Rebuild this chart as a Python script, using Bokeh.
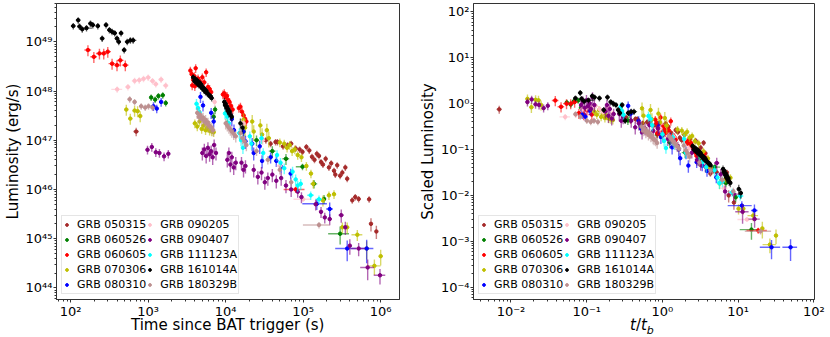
import numpy as np
from bokeh.plotting import figure
from bokeh.layouts import row, column
from bokeh.models import (Range1d, FixedTicker, CustomJSTickFormatter, Legend,
                          LegendItem, Div)
from bokeh.embed import file_html
from bokeh.resources import INLINE

# ---------------- data ----------------
grb_names = ["GRB 050315", "GRB 060526", "GRB 060605", "GRB 070306", "GRB 080310",
             "GRB 090205", "GRB 090407", "GRB 111123A", "GRB 161014A", "GRB 180329B"]
grb_colors = ["#a52a2a", "#008000", "#ff0000", "#bfbf00", "#0000ff",
              "#ffc0cb", "#800080", "#00ffff", "#000000", "#bc8f8f"]

# break time (s) and break luminosity (erg/s) used for the scaled panel
t_break = [1.0e5, 2.0e4, 4.34e3, 3.16e4, 1.34e4, 7.65e3, 5.94e4, 1.5e4, 1.52e3, 8.1e3]
L_break = [2.0e47, 7.0e47, 5.8e48, 3.3e47, 8.5e47, 2.1e48, 5.9e46, 6.5e47, 1.6e49, 1.15e48]

t_050315 = [700, 33000, 38000, 44000, 46500, 55000, 63000, 70000, 80000, 90000, 98000,
            110000, 120000, 130000, 140000, 150000, 160000, 170000, 180000, 195000,
            215000, 230000, 250000, 260000, 275000, 300000, 320000, 350000, 370000,
            430000, 470000, 520000, 710000, 750000, 880000]
L_050315 = [1.5e47, 1.0e47, 8.5e46, 9.2e46, 9.2e46, 7.5e46, 7.9e46, 8.5e46, 6.8e46, 6.5e46,
            5.8e46, 7.3e46, 6.2e46, 4.6e46, 4.0e46, 5.3e46, 4.8e46, 3.6e46, 3.2e46, 4.2e46,
            2.8e46, 3.4e46, 2.4e46, 2.0e46, 3.1e46, 1.9e46, 2.2e46, 2.8e46, 1.65e46,
            6.0e45, 7.0e45, 6.4e45, 6.3e45, 2.0e45, 1.4e45]
te_050315 = [0.08] + [0.04] * 34
le_050315 = [0.2] + [0.15] * 28 + [0.15, 0.15, 0.15, 0.15, 0.3, 0.3]

t_060526 = [1092, 1230, 1356, 1542, 1684, 7000, 7300, 10500, 17000, 25000, 40000, 60000,
            98000, 138000, 186000, 300000]
L_060526 = [7.4e47, 6.7e47, 7.9e47, 8.2e47, 5.7e47, 3.0e47, 4.2e47, 2.2e47, 1.5e47, 1.0e47,
            6.0e46, 4.2e46, 2.9e46, 1.3e46, 6.4e45, 1.26e45]
te_060526 = [0.04, 0.04, 0.04, 0.04, 0.04, 0.03, 0.03, 0.04, 0.05, 0.08, 0.1, 0.1, 0.18, 0.1, 0.05, 0.3]
le_060526 = [0.15, 0.15, 0.15, 0.15, 0.15, 0.2, 0.2, 0.2, 0.2, 0.25, 0.25, 0.25, 0.15, 0.2, 0.2, 0.4]

t_060605 = [167, 199, 235, 267, 301, 342, 396, 437, 507,
            3500, 3650, 3700, 3800, 3950, 4000, 4100, 4250, 4400, 4600, 4800, 5000, 5300,
            5600, 5900, 6200, 6500,
            9200, 9600, 10000, 10400, 10800, 11200, 11700, 12300,
            14800, 15500, 16200, 17000, 17800, 18500, 80000]
L_060605 = [6.8e48, 4.95e48, 5.8e48, 5.8e48, 6.3e48, 3.6e48, 3.35e48, 4.2e48, 3.35e48,
            2.6e48, 2.2e48, 1.3e48, 1.7e48, 2.0e48, 1.25e48, 2.9e48, 1.5e48, 1.8e48, 1.6e48,
            1.35e48, 1.9e48, 1.5e48, 2.4e48, 1.2e48, 1.1e48, 9.5e47,
            8.5e47, 9.0e47, 7.5e47, 8.0e47, 6.5e47, 6.0e47, 5.0e47, 4.2e47,
            4.5e47, 4.8e47, 3.8e47, 3.2e47, 2.7e47, 2.4e47, 1.0e46]
te_060605 = [0.1] * 9 + [0.03] * 17 + [0.03] * 8 + [0.03] * 6 + [0.3]
le_060605 = [0.25] * 9 + [0.2] * 17 + [0.2] * 8 + [0.2] * 6 + [0.15]

t_070306 = [522, 588, 668, 730, 789,
            4000, 4300, 4600, 4900, 5200, 5500, 5800, 6200, 6600, 7000,
            17000, 17800, 22000, 23000, 28000, 29500, 34000, 36000,
            50000, 57000, 62000, 67000, 72000, 78000, 85000, 95000,
            110000, 126000, 135000, 180000, 215000, 250000, 320000, 370000, 500000,
            660000, 830000, 1000000]
L_070306 = [4.2e47, 2.75e47, 4.0e47, 3.9e47, 3.1e47,
            2.2e47, 1.9e47, 2.4e47, 1.7e47, 2.0e47, 1.6e47, 1.8e47, 1.55e47, 1.5e47, 1.45e47,
            2.6e47, 1.8e47, 2.4e47, 1.5e47, 2.0e47, 1.3e47, 1.6e47, 1.1e47,
            9.0e46, 8.5e46, 7.0e46, 8.0e46, 6.0e46, 6.5e46, 5.0e46, 4.5e46,
            3.0e46, 2.1e46, 1.3e46, 6.0e45, 7.6e45, 8.0e45, 1.7e45, 1.7e45, 1.2e45,
            6.3e44, 2.8e44, 4.4e44]
te_070306 = [0.06] * 5 + [0.03] * 10 + [0.03] * 8 + [0.04] * 8 + \
            [0.05, 0.05, 0.05, 0.05, 0.04, 0.04, 0.04, 0.04, 0.16, 0.05, 0.2, 0.05]
le_070306 = [0.25] * 5 + [0.2] * 10 + [0.35] * 8 + [0.2] * 8 + \
            [0.2, 0.2, 0.2, 0.25, 0.2, 0.2, 0.25, 0.25, 0.25, 0.4, 0.35, 0.35]

t_080310 = [1170, 1290, 1470, 4730, 5100, 6500, 7000, 12000, 12800, 17000, 18000, 22000,
            23000, 27500, 29500, 38000, 45000, 52000, 69000, 150000, 220000, 370000, 660000]
L_080310 = [4.9e47, 4.4e47, 6.0e47, 7.6e47, 5.1e47, 3.6e47, 2.4e47, 2.7e47, 1.6e47, 1.5e47,
            9.5e46, 8.5e46, 5.5e46, 7.5e46, 3.8e46, 4.5e46, 3.8e46, 2.9e46, 2.1e46, 5.1e45,
            4.0e45, 6.3e44, 6.3e44]
te_080310 = [0.05] * 3 + [0.03] * 4 + [0.03] * 8 + [0.05] * 4 + [0.35, 0.1, 0.3, 0.22]
le_080310 = [0.2] * 3 + [0.25] * 4 + [0.3] * 8 + [0.25] * 4 + [0.25, 0.35, 0.45, 0.5]

t_090205 = [398, 548, 668, 767, 871, 1000, 1137, 1254, 1468, 1683,
            7200, 10800, 17000, 30000, 50000, 100000]
L_090205 = [1.08e48, 1.21e48, 1.61e48, 1.66e48, 1.77e48, 1.88e48, 1.6e48, 1.38e48, 1.71e48,
            1.29e48, 6.0e47, 4.0e47, 2.2e47, 1.0e47, 3.0e46, 6.3e45]
te_090205 = [0.16] + [0.08] * 9 + [0.04, 0.04, 0.05, 0.08, 0.1, 0.25]
le_090205 = [0.15] * 10 + [0.2] * 5 + [0.1]

t_090407 = [980, 1114, 1254, 1396, 1603, 1820,
            5000, 5300, 5600, 5900, 6200, 6500, 6800, 7100, 7500,
            10500, 11000, 11500, 12000, 12700, 13500,
            16000, 17000, 18000,
            23000, 26000, 29000, 32000, 35000,
            40000, 45000, 52000, 60000, 70000,
            85000, 95000,
            145000, 170000, 190000, 220000, 310000, 350000, 400000, 520000, 680000, 980000]
L_090407 = [6.4e46, 7.3e46, 5.7e46, 5.5e46, 4.7e46, 5.3e46,
            5.5e46, 6.5e46, 4.8e46, 7.0e46, 5.2e46, 6.0e46, 4.5e46, 8.0e46, 5.5e46,
            4.0e46, 5.5e46, 3.2e46, 4.5e46, 2.8e46, 3.5e46,
            3.5e46, 2.5e46, 3.0e46,
            2.5e46, 1.8e46, 2.2e46, 1.4e46, 1.7e46,
            2.0e46, 1.5e46, 1.7e46, 1.2e46, 1.0e46,
            9.0e45, 7.0e45,
            5.0e45, 3.5e45, 2.7e45, 2.5e45, 3.0e45, 1.7e45, 7.2e44, 6.3e44, 2.6e44, 1.8e44]
te_090407 = [0.05] * 6 + [0.03] * 9 + [0.03] * 6 + [0.03] * 3 + [0.04] * 5 + [0.04] * 5 + \
            [0.05] * 2 + [0.05, 0.05, 0.05, 0.05, 0.08, 0.05, 0.05, 0.2, 0.2, 0.17]
le_090407 = [0.2] * 6 + [0.3] * 9 + [0.3] * 6 + [0.3] * 3 + [0.3] * 5 + [0.3] * 5 + \
            [0.25] * 2 + [0.25, 0.25, 0.25, 0.25, 0.3, 0.3, 0.35, 0.3, 0.45, 0.35]

t_111123A = [4200, 4400, 4600, 9800, 10500, 11000, 15000, 15800, 16700, 20500, 21500,
             29000, 30500, 46000, 51000, 57000, 73000, 80000, 85000, 93000, 125000, 160000]
L_111123A = [5.5e47, 4.5e47, 3.7e47, 3.5e47, 3.0e47, 2.2e47, 1.4e47, 1.0e47, 7.0e46,
             1.2e47, 8.5e46, 1.1e47, 5.5e46, 5.0e46, 3.5e46, 2.7e46, 2.3e46, 1.6e46,
             1.2e46, 1.3e46, 7.6e45, 6.3e45]
te_111123A = [0.03] * 13 + [0.04] * 7 + [0.1, 0.1]
le_111123A = [0.25] * 20 + [0.2, 0.2]

t_161014A = [108, 125, 130, 141, 160, 180, 193, 224, 255, 286, 316, 342, 370, 396, 417,
             447, 490, 537, 589, 640,
             3800, 3950, 4050, 4150, 4250, 4350, 4450, 4550, 4650, 4750, 4850, 4950,
             5050, 5200, 5350, 5500, 5650, 5800, 6000, 6200, 6400, 6600,
             9600, 9800, 10000, 10200, 10400, 10600, 10800, 11000, 11300, 11600, 12000,
             15500, 16500]
L_161014A = [2.1e49, 2.75e49, 2.05e49, 1.8e49, 1.9e49, 2.35e49, 2.2e49, 2.1e49, 1.17e49,
             2.2e49, 1.74e49, 1.6e49, 1.5e49, 1.17e49, 1.0e49, 1.5e49, 6.8e48, 1.0e49,
             1.07e49, 1.07e49,
             1.9e48, 1.6e48, 1.75e48, 1.5e48, 1.65e48, 1.4e48, 1.55e48, 1.3e48, 1.45e48,
             1.25e48, 1.35e48, 1.15e48, 1.2e48, 1.05e48, 1.1e48, 9.5e47, 1.0e48, 9.0e47,
             8.5e47, 8.0e47, 7.8e47, 7.2e47,
             6.0e47, 5.2e47, 5.5e47, 4.6e47, 4.8e47, 4.0e47, 4.3e47, 3.6e47, 3.8e47,
             3.2e47, 3.0e47,
             2.2e47, 1.8e47]
te_161014A = [0.07] * 4 + [0.18] + [0.07] * 14 + [0.1] + [0.02] * 22 + [0.02] * 11 + [0.04, 0.04]
le_161014A = [0.15] * 20 + [0.15] * 22 + [0.2] * 11 + [0.25, 0.25]

t_180329B = [577, 668, 813, 916, 1010, 1137,
             4300, 4500, 4700, 4900, 5100, 5300, 5500, 5700, 5900, 6100, 6300, 6600, 6900,
             10000, 10500, 11000, 11500, 12000, 12700, 13500,
             15500, 16500, 17500, 18500,
             25000, 35000, 50000, 70000,
             160000]
L_180329B = [6.8e47, 6.0e47, 4.9e47, 4.6e47, 4.9e47, 4.6e47,
             3.6e47, 3.0e47, 3.3e47, 2.7e47, 2.9e47, 2.4e47, 2.6e47, 2.2e47, 2.3e47, 2.0e47,
             1.9e47, 1.8e47, 1.6e47,
             2.2e47, 2.0e47, 1.8e47, 1.65e47, 1.5e47, 1.35e47, 1.2e47,
             1.4e47, 1.1e47, 9.5e46, 8.0e46,
             6.0e46, 4.0e46, 2.5e46, 1.4e46,
             1.9e45]
te_180329B = [0.06] * 6 + [0.02] * 13 + [0.02] * 7 + [0.03] * 4 + [0.06] * 4 + [0.38]
le_180329B = [0.15] * 6 + [0.25] * 13 + [0.25] * 7 + [0.25] * 4 + [0.2] * 4 + [0.15]

series = [
    (t_050315, L_050315, te_050315, le_050315),
    (t_060526, L_060526, te_060526, le_060526),
    (t_060605, L_060605, te_060605, le_060605),
    (t_070306, L_070306, te_070306, le_070306),
    (t_080310, L_080310, te_080310, le_080310),
    (t_090205, L_090205, te_090205, le_090205),
    (t_090407, L_090407, te_090407, le_090407),
    (t_111123A, L_111123A, te_111123A, le_111123A),
    (t_161014A, L_161014A, te_161014A, le_161014A),
    (t_180329B, L_180329B, te_180329B, le_180329B),
]

# ---------------- styling helpers ----------------
FONT = "DejaVu Sans"

SUP_JS = """
const e = Math.round(Math.log10(tick));
const m = {"0":"\u2070","1":"\u00b9","2":"\u00b2","3":"\u00b3","4":"\u2074",
           "5":"\u2075","6":"\u2076","7":"\u2077","8":"\u2078","9":"\u2079","-":"\u207b"};
let s = "";
for (const c of String(e)) { s += m[c]; }
return "10" + s;
"""


def log_ticker(lo, hi):
    majors = [10.0 ** k for k in range(lo, hi + 1)]
    minors = [m * 10.0 ** k for k in range(lo - 1, hi + 1) for m in range(2, 10)]
    return FixedTicker(ticks=majors, minor_ticks=minors)


def make_fig(xr, yr, xt, yt, ylabel, bl, br):
    p = figure(width=415, height=337, x_axis_type="log", y_axis_type="log",
               x_range=Range1d(*xr), y_range=Range1d(*yr),
               output_backend="svg", toolbar_location=None,
               min_border_left=bl, min_border_right=br,
               min_border_top=3, min_border_bottom=38)
    p.grid.visible = False
    p.background_fill_color = "white"
    p.outline_line_color = "#333333"
    p.outline_line_width = 1
    p.outline_line_alpha = 1
    p.xaxis.ticker = log_ticker(*xt)
    p.yaxis.ticker = log_ticker(*yt)
    fmt = CustomJSTickFormatter(code=SUP_JS)
    p.xaxis.formatter = fmt
    p.yaxis.formatter = fmt
    p.yaxis.axis_label = ylabel
    for ax in p.axis:
        ax.major_label_text_font = FONT
        ax.major_label_text_font_size = "13px"
        ax.major_label_text_color = "black"
        ax.axis_label_text_font = FONT
        ax.axis_label_text_font_size = "15px"
        ax.axis_label_text_font_style = "normal"
        ax.axis_label_text_color = "black"
        ax.major_tick_out = 3
        ax.major_tick_in = 0
        ax.minor_tick_out = 2
        ax.minor_tick_in = 0
        ax.major_tick_line_color = "#333333"
        ax.minor_tick_line_color = "#333333"
        ax.axis_line_color = "#333333"
        ax.major_label_standoff = 1
        ax.axis_label_standoff = 1
    return p


def draw(p, scaled):
    items = []
    for i, (t, L, te, le) in enumerate(series):
        t = np.asarray(t, dtype=float)
        L = np.asarray(L, dtype=float)
        te = np.asarray(te, dtype=float)
        le = np.asarray(le, dtype=float)
        if scaled:
            t = t / t_break[i]
            L = L / L_break[i]
        c = grb_colors[i]
        p.segment(t * (1 - te), L, t * (1 + te), L, line_color=c, line_width=1.4, line_alpha=0.6)
        p.segment(t, L * (1 - le), t, L * (1 + le), line_color=c, line_width=1.4, line_alpha=0.6)
        r = p.scatter(t, L, size=3.5, marker="circle", fill_color=c, line_color=c)
        items.append(LegendItem(label=grb_names[i], renderers=[r]))
    leg = Legend(items=items, location="bottom_left", orientation="vertical", nrows=5,
                 label_text_font=FONT, label_text_font_size="11px", label_text_color="black",
                 label_height=15, glyph_height=15, glyph_width=7, label_standoff=7,
                 spacing=0, padding=1, margin=5,
                 border_line_color="#cccccc", border_line_width=1,
                 background_fill_color="white", background_fill_alpha=0.8)
    p.add_layout(leg)


# ---------------- left panel ----------------
p1 = make_fig((65.6, 1.75e6), (5.8e43, 6.0e49), (2, 6), (44, 49),
              "Luminosity (erg/s)", 54, 16)
draw(p1, scaled=False)

# ---------------- right panel ----------------
p2 = make_fig((3.2e-3, 102.0), (5.4e-5, 152.0), (-2, 2), (-4, 2),
              "Scaled Luminosity", 53, 16)
draw(p2, scaled=True)

label_style = {"font-family": "DejaVu Sans", "font-size": "15px", "color": "black",
               "line-height": "18px", "white-space": "nowrap"}
xlabel1 = Div(text="Time since BAT trigger (s)", width=210, height=18,
              margin=(-21, 0, 0, 131), styles=label_style)
xlabel2 = Div(text='<i>t</i>/<i>t</i><sub style="font-size:11px"><i>b</i></sub>',
              width=60, height=18, margin=(-18, 0, 0, 630), styles=label_style)

layout = column(row(p1, p2), xlabel1, xlabel2)
open("out.html", "w", encoding="utf-8").write(file_html(layout, INLINE))
